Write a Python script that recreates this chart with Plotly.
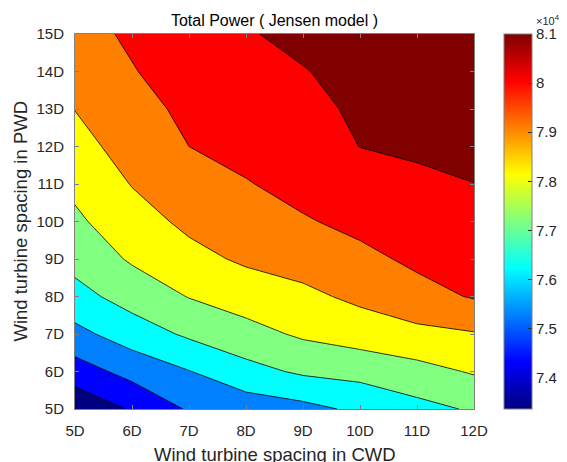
import plotly.graph_objects as go

# Grid of turbine spacings (rotor diameters)
cwd = [5, 6, 7, 8, 9, 10, 11, 12]                      # cross-wind direction
pwd = [5, 6, 7, 8, 9, 10, 11, 12, 13, 14, 15]          # prevailing-wind direction
cwd_labels = ["5D", "6D", "7D", "8D", "9D", "10D", "11D", "12D"]
pwd_labels = ["5D", "6D", "7D", "8D", "9D", "10D", "11D", "12D", "13D", "14D", "15D"]

# Total farm power, one row per PWD spacing (5D ... 15D), one column per CWD spacing (5D ... 12D)
power = [
    [73363, 74132, 75016, 75311, 75545, 75973, 76420, 76777],
    [74511, 75216, 75771, 76396, 76816, 76970, 77272, 77641],
    [75554, 76237, 76821, 77259, 77692, 77978, 78219, 78384],
    [76389, 77035, 77595, 77971, 78248, 78624, 79038, 79387],
    [76972, 77666, 78195, 78570, 78790, 79109, 79483, 79886],
    [77404, 78100, 78619, 78968, 79244, 79542, 79821, 80095],
    [77761, 78477, 78977, 79272, 79601, 79892, 80079, 80196],
    [78136, 78791, 79322, 79588, 79885, 80210, 80296, 80375],
    [78459, 79039, 79497, 79806, 80055, 80288, 80460, 80593],
    [78781, 79280, 79670, 79966, 80172, 80399, 80612, 80804],
    [79049, 79439, 79828, 80152, 80361, 80555, 80770, 81000],
]

# Contour levels
level_start = 74042
level_step = 880
level_end = 80202

# Colour bar ticks (values in units of 1e4)
cbar_vals = [74000, 75000, 76000, 77000, 78000, 79000, 80000, 81000]
cbar_text = ["7.4", "7.5", "7.6", "7.7", "7.8", "7.9", "8", "8.1"]

jet = [
    [0.0, "rgb(0,0,128)"],
    [0.125, "rgb(0,0,255)"],
    [0.375, "rgb(0,255,255)"],
    [0.625, "rgb(255,255,0)"],
    [0.875, "rgb(255,0,0)"],
    [1.0, "rgb(128,0,0)"],
]

FONT = "Liberation Sans, Arial, Helvetica, sans-serif"
TXT = "#262626"
FRAME = "#808080"

fig = go.Figure()

# continuous colour bar for the full data range (hidden under the filled contours)
fig.add_trace(go.Heatmap(
    x=cwd, y=pwd, z=power, colorscale=jet, hoverinfo="skip",
    showscale=True,
    colorbar=dict(
        x=1.0763, xanchor="left", xpad=0, ypad=0,
        y=0.5, yanchor="middle", len=1, lenmode="fraction",
        thickness=28, outlinewidth=1, outlinecolor=FRAME,
        tickmode="array", tickvals=cbar_vals, ticktext=cbar_text,
        ticks="inside", ticklen=4, tickcolor=TXT,
        tickfont=dict(family=FONT, size=15, color=TXT),
    ),
))

fig.add_trace(go.Contour(
    x=cwd, y=pwd, z=power,
    colorscale=jet, showscale=False, autocontour=False,
    contours=dict(start=level_start, end=level_end, size=level_step,
                  coloring="fill", showlines=True),
    line=dict(color="black", width=0.8, smoothing=0),
    hoverinfo="skip",
))

axis_common = dict(
    showline=True, linecolor=FRAME, linewidth=1, mirror="ticks",
    ticks="inside", ticklen=4, tickcolor=FRAME, showgrid=False, zeroline=False,
    tickfont=dict(family=FONT, size=15, color=TXT),
)

fig.update_xaxes(range=[5, 12], tickmode="array", tickvals=cwd, ticktext=cwd_labels,
                 ticklabelstandoff=8, **axis_common)
fig.update_yaxes(range=[5, 15], tickmode="array", tickvals=pwd, ticktext=pwd_labels,
                 ticklabelstandoff=7, **axis_common)

fig.update_layout(
    width=567, height=462,
    margin=dict(l=75, r=92.5, t=34, b=53, autoexpand=False),
    paper_bgcolor="white", plot_bgcolor="white",
    title=dict(text="Total Power ( Jensen model )", x=0.5, xref="paper",
               y=1 - 20 / 462, yref="container", xanchor="center", yanchor="middle",
               font=dict(family=FONT, size=16, color="black")),
    annotations=[
        dict(text="Wind turbine spacing in CWD", x=0.5, xref="paper", y=-0.1205, yref="paper",
             xanchor="center", yanchor="middle", showarrow=False,
             font=dict(family=FONT, size=18.5, color=TXT)),
        dict(text="Wind turbine spacing in PWD", x=-0.1377, xref="paper", y=0.5, yref="paper",
             xanchor="center", yanchor="middle", textangle=-90, showarrow=False,
             font=dict(family=FONT, size=18.5, color=TXT)),
        dict(text="\u00d710<sup>4</sup>", x=1.1514, xref="paper", y=1.0365, yref="paper",
             xanchor="left", yanchor="middle", showarrow=False,
             font=dict(family=FONT, size=11, color=TXT)),
    ],
)

fig.write_html("out.html")
